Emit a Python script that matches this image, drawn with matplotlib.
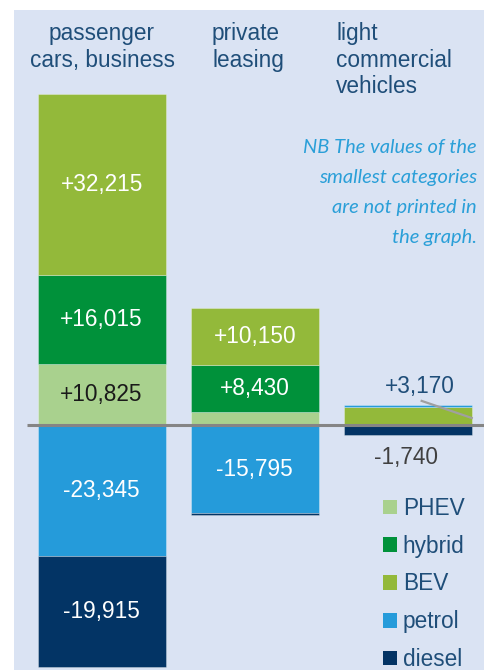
import matplotlib
matplotlib.use("Agg")
import matplotlib.pyplot as plt
from matplotlib.patches import Patch
import numpy as np

plt.rcParams['font.family'] = ['Liberation Sans', 'DejaVu Sans']

# data (change in registrations)
groups = ["passenger\ncars, business", "private\nleasing", "light\ncommercial\nvehicles"]
fuels = ["PHEV", "hybrid", "BEV", "petrol", "diesel"]
phev = [10825, 2300, 0]
hybrid = [16015, 8430, 0]
bev = [32215, 10150, 3170]
petrol = [-23345, -15795, 450]
diesel = [-19915, -250, -1740]

colors = ["#A9D18E", "#00913A", "#93B93A", "#259BDA", "#033465"]
label_dark = "#1F4E79"
panel = "#DAE3F3"

series = [phev, hybrid, bev, petrol, diesel]

fig = plt.figure(figsize=(4.84, 6.70), dpi=100)
fig.patch.set_facecolor("white")

W, H = 484.0, 670.0
ax = fig.add_axes([14 / W, 0, 470 / W, 660 / H])
ax.set_facecolor(panel)
for s in ax.spines.values():
    s.set_visible(False)
ax.set_xticks([])
ax.set_yticks([])
ax.set_xlim(-0.572, 2.497)
ax.set_ylim(-43750, 74100)

x = np.arange(len(groups))
width = 0.835
pos_base = np.zeros(len(groups))
neg_base = np.zeros(len(groups))
for vals, col, name in zip(series, colors, fuels):
    vals = np.array(vals, dtype=float)
    bottoms = np.where(vals >= 0, pos_base, neg_base)
    ax.bar(x, vals, width, bottom=bottoms, color=col, edgecolor=(1, 1, 1, 0.35),
           linewidth=0.6, label=name, zorder=2)
    for i, v in enumerate(vals):
        if abs(v) > 5000:
            txt = ("+" if v > 0 else "-") + format(int(abs(v)), ",")
            tc = "#1a1a1a" if name == "PHEV" else "white"
            ax.text(x[i], bottoms[i] + v / 2, txt, ha="center", va="center",
                    fontsize=16.3, color=tc, zorder=4)
    pos_base = pos_base + np.where(vals >= 0, vals, 0)
    neg_base = neg_base + np.where(vals < 0, vals, 0)

# zero line
ax.plot([-0.487, 2.497], [0, 0], color="#858585", lw=2.2, zorder=3,
        solid_capstyle="butt")

# labels for the small last group
ax.text(2.08, 6800, "+" + format(bev[2], ","), ha="center", va="center",
        fontsize=16.3, color=label_dark, zorder=4)
ax.plot([2.09, 2.417], [4300, 1250], color="#A0A0A0", lw=1.6, zorder=4)
ax.text(1.99, -5800, "-" + format(abs(diesel[2]), ","), ha="center",
        va="center", fontsize=16.3, color="#404040", zorder=4)

# group titles
fig.text(102 / W, 1 - 22 / H, groups[0], ha="center", va="top", fontsize=16.3,
         color=label_dark, linespacing=1.2)
fig.text(212 / W, 1 - 22 / H, groups[1], ha="left", va="top", fontsize=16.3,
         color=label_dark, linespacing=1.2)
fig.text(336 / W, 1 - 22 / H, groups[2], ha="left", va="top", fontsize=16.3,
         color=label_dark, linespacing=1.2)

# note
fig.text(477 / W, 1 - 139 / H,
         "NB The values of the\nsmallest categories\nare not printed in\nthe graph.",
         ha="right", va="top", fontsize=14.5, color="#2A9FD8",
         style="italic", family="Lato", linespacing=1.92)

handles = [Patch(facecolor=c, edgecolor="none") for c in colors]
leg = fig.legend(handles, fuels, loc="upper left",
                 bbox_to_anchor=(383 / W, 1 - 497 / H), frameon=False,
                 fontsize=16.3, handlelength=0.62, handleheight=0.62,
                 handletextpad=0.25, labelspacing=0.65, borderaxespad=0,
                 borderpad=0)
for t in leg.get_texts():
    t.set_color(label_dark)

plt.savefig("out.png", dpi=100)
